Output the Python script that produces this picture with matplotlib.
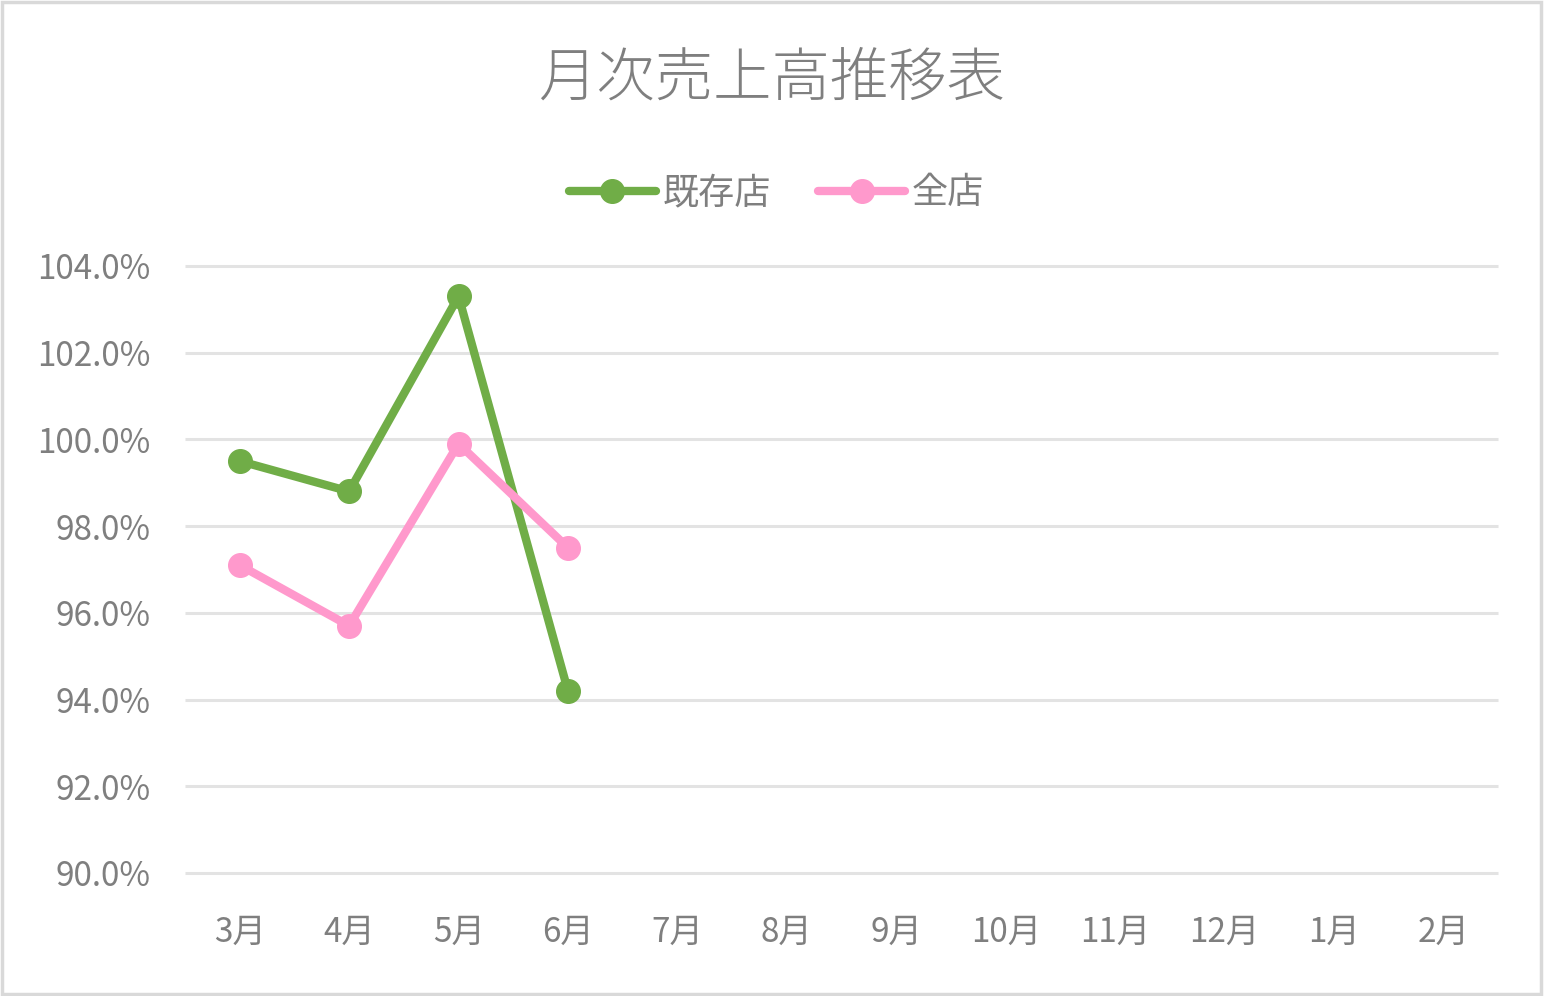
import matplotlib.pyplot as plt
from matplotlib.patches import Rectangle
from matplotlib.ticker import FuncFormatter

plt.rcParams['font.family'] = ['Noto Sans CJK JP', 'DejaVu Sans']

months = ['3月', '4月', '5月', '6月', '7月', '8月', '9月', '10月', '11月', '12月', '1月', '2月']
existing = [99.5, 98.8, 103.3, 94.2]
all_stores = [97.1, 95.7, 99.9, 97.5]

text_color = '#7F7F7F'
green = '#70AD47'
pink = '#FF99CC'

fig = plt.figure(figsize=(15.44, 9.96), dpi=100)
ax = fig.add_axes([0.1198, 0.1235, 0.8505, 0.6095])

x_all = range(len(months))
ax.plot(range(len(existing)), existing, color=green, lw=6, marker='o', ms=17,
        solid_capstyle='round', label='既存店', zorder=3)
ax.plot(range(len(all_stores)), all_stores, color=pink, lw=6, marker='o', ms=17,
        solid_capstyle='round', label='全店', zorder=3)

ax.set_xlim(-0.5, len(months) - 0.5)
ax.set_ylim(90, 104)
ax.set_yticks(range(90, 105, 2))
ax.yaxis.set_major_formatter(FuncFormatter(lambda v, p: f'{v:.1f}%'))
ax.set_xticks(list(x_all))
ax.set_xticklabels(months)

ax.grid(axis='y', color='#E3E3E3', lw=2.2)
for gl in ax.get_ygridlines():
    gl.set_clip_on(False)
    gl.set_solid_capstyle('butt')
ax.set_axisbelow(True)
for s in ax.spines.values():
    s.set_visible(False)
ax.tick_params(axis='both', length=0, colors=text_color, labelsize=24)
ax.tick_params(axis='x', pad=30)
ax.tick_params(axis='y', pad=25)
for lbl in ax.get_yticklabels() + ax.get_xticklabels():
    lbl.set_color(text_color)

fig.text(0.5, 0.92, '月次売上高推移表', ha='center', va='center', fontsize=42,
         color='#7F7F7F', fontweight='light')

leg = fig.legend(loc='center', bbox_to_anchor=(0.503, 0.806), ncol=2, frameon=False,
                 fontsize=26, handlelength=2.4, columnspacing=1.3, handletextpad=0.2)
for t in leg.get_texts():
    t.set_color(text_color)

fig.patches.append(Rectangle((0.001, 0.002), 0.997, 0.996, transform=fig.transFigure,
                             fill=False, edgecolor='#D9D9D9', lw=2.5))

fig.savefig('out.png', dpi=100, facecolor='white')
